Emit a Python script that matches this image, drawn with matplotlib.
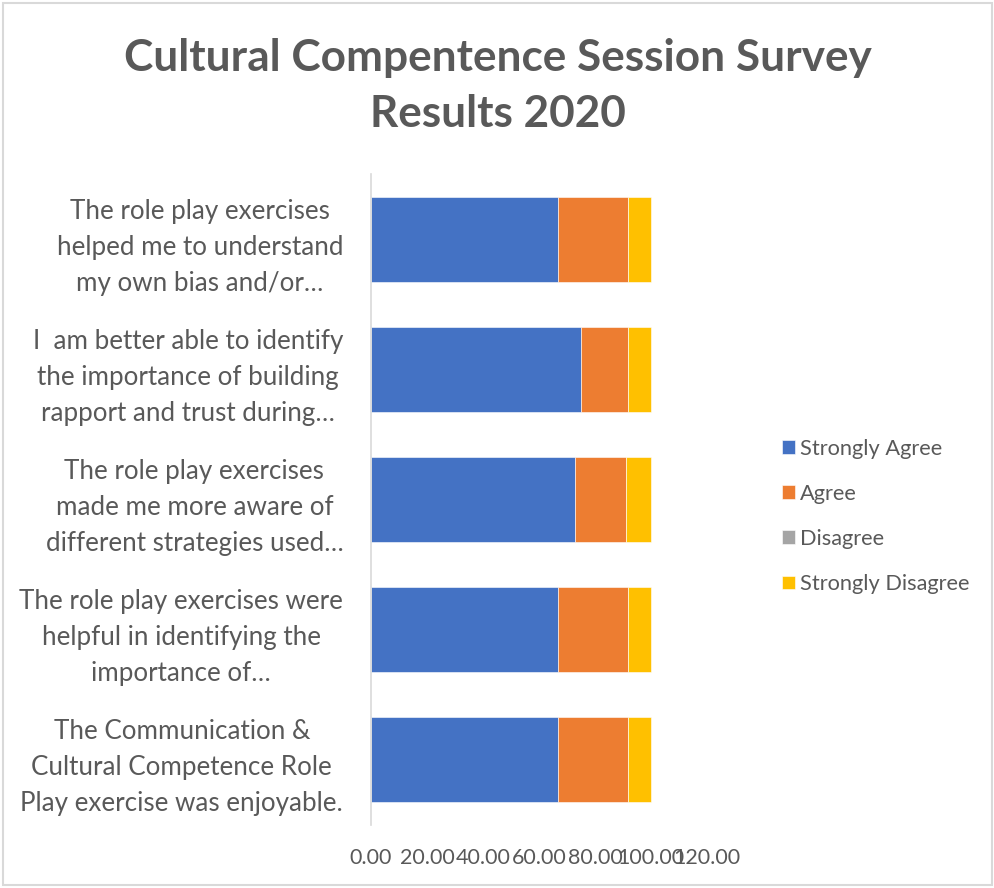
import matplotlib.pyplot as plt
from matplotlib.patches import Rectangle

# survey statements, bottom to top as they appear on the axis
statements = [
    "The Communication &\nCultural Competence Role\nPlay exercise was enjoyable.",
    "The role play exercises were\nhelpful in identifying the\nimportance of…",
    "The role play exercises\nmade me more aware of\ndifferent strategies used…",
    "I  am better able to identify\nthe importance of building\nrapport and trust during…",
    "The role play exercises\nhelped me to understand\nmy own bias and/or…",
]
series = ["Strongly Agree", "Agree", "Disagree", "Strongly Disagree"]
strongly_agree = [66.67, 66.67, 72.73, 75.00, 66.67]
agree = [25.00, 25.00, 18.18, 16.67, 25.00]
disagree = [0.00, 0.00, 0.00, 0.00, 0.00]
strongly_disagree = [8.33, 8.33, 9.09, 8.33, 8.33]
xticks = [0, 20, 40, 60, 80, 100, 120]

colors = ["#4472C4", "#ED7D31", "#A5A5A5", "#FFC000"]
grey = "#595959"
plt.rcParams["font.family"] = ["Lato", "DejaVu Sans"]

fig = plt.figure(figsize=(9.95, 8.88), dpi=100)
ax = fig.add_axes([371 / 995, 63.5 / 888, 336 / 995, 650 / 888])

pos = list(range(len(statements)))
left = [0.0] * len(statements)
for name, vals, c in zip(series, [strongly_agree, agree, disagree, strongly_disagree], colors):
    ax.barh(pos, vals, left=left, height=0.654, color=c, label=name,
            edgecolor="white", linewidth=0.4)
    left = [a + b for a, b in zip(left, vals)]

ax.set_xlim(0, 120)
ax.set_ylim(-0.5, len(statements) - 0.5)
ax.set_xticks(xticks, [f"{v:.2f}" for v in xticks])
ax.set_yticks(pos, statements, multialignment="center", linespacing=1.55)
ax.tick_params(axis="x", length=0, pad=17, labelsize=15.5, labelcolor=grey)
ax.tick_params(axis="y", length=0, pad=20, labelsize=18.7, labelcolor=grey)

for s in ["top", "right", "bottom"]:
    ax.spines[s].set_visible(False)
ax.spines["left"].set_color("#D9D9D9")
ax.spines["left"].set_linewidth(1.2)

fig.text(0.5, 1 - 86 / 888, "Cultural Compentence Session Survey\nResults 2020",
         ha="center", va="center", fontsize=31.8, fontweight="bold", color=grey,
         linespacing=1.5)

leg = fig.legend(loc="center left", bbox_to_anchor=(771 / 995, 1 - 516.5 / 888),
                 frameon=False, fontsize=15.7, labelcolor=grey, handlelength=0.6,
                 handleheight=0.6, handletextpad=0.25, labelspacing=1.15,
                 borderpad=0)

# light frame around the whole chart area
fig.patches.append(Rectangle((3 / 995, 3 / 888), 989 / 995, 882 / 888,
                             transform=fig.transFigure, fill=False,
                             edgecolor="#D9D9D9", linewidth=1.5))

fig.savefig("out.png", dpi=100)
